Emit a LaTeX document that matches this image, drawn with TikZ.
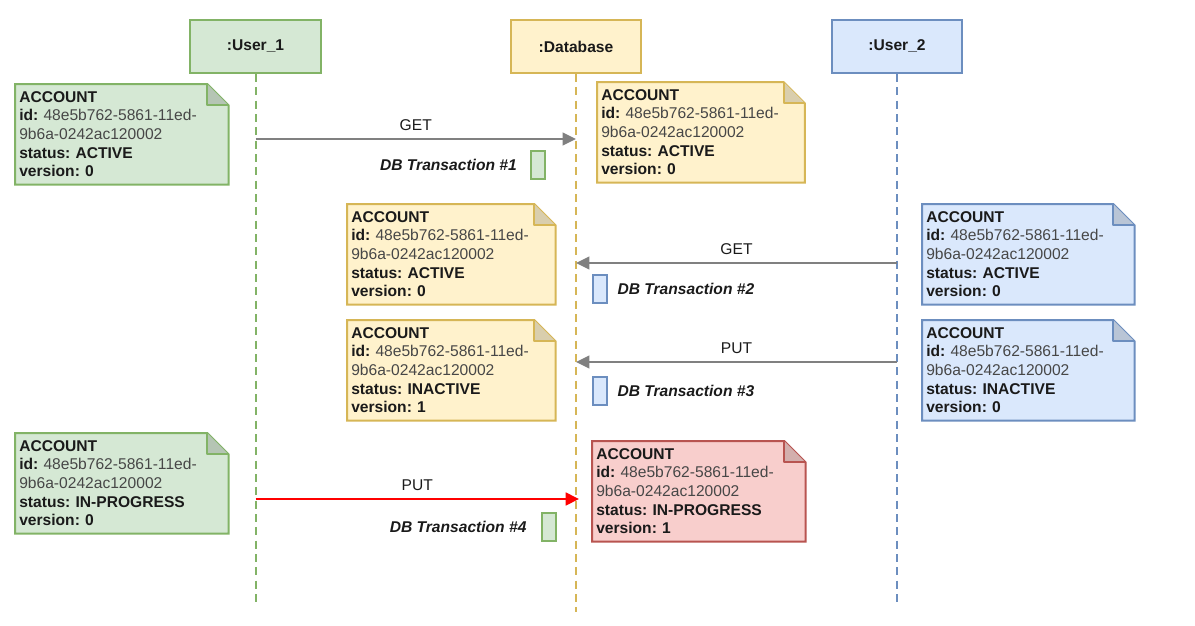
\documentclass[tikz,border=0pt]{standalone}
\usepackage{fontspec}
\setmainfont{Liberation Sans}
\usetikzlibrary{positioning,arrows.meta,backgrounds}
\frenchspacing

\definecolor{greenfill}{HTML}{D5E8D4}
\definecolor{greenline}{HTML}{82B366}
\definecolor{yellowfill}{HTML}{FFF2CC}
\definecolor{yellowline}{HTML}{D6B656}
\definecolor{bluefill}{HTML}{DAE8FC}
\definecolor{blueline}{HTML}{6C8EBF}
\definecolor{redfill}{HTML}{F8CECC}
\definecolor{redline}{HTML}{B85450}
\definecolor{arrowgray}{HTML}{808080}
\definecolor{idgray}{HTML}{474747}
\definecolor{textdark}{HTML}{1A1A1A}

% account record text
\newcommand{\acc}[2]{\textbf{ACCOUNT}\\
  \textbf{id:} \textcolor{idgray}{48e5b762-5861-11ed-}\\
  \textcolor{idgray}{9b6a-0242ac120002}\\
  \textbf{status: #1}\\
  \textbf{version: #2}}

% note outline with folded corner, behind the text
\newcommand{\notefold}[3]{%
  \begin{scope}[on background layer]
    \draw[draw=#3, fill=#2, line width=1.5pt]
      (#1.north west) -- ([xshift=-16pt]#1.north east) -- ([yshift=-16pt]#1.north east)
      -- (#1.south east) -- (#1.south west) -- cycle;
    \draw[draw=#3, fill=#2!85!black, line width=1.5pt, line join=round]
      ([xshift=-16pt]#1.north east) -- ([xshift=-16pt,yshift=-16pt]#1.north east)
      -- ([yshift=-16pt]#1.north east);
  \end{scope}}

\begin{document}
\begin{tikzpicture}[x=0.75pt, y=-0.75pt, font=\fontsize{11.7}{14}\selectfont, text=textdark]
		\tikzset{head/.style = {draw, line width=1.5pt, minimum width=98pt, minimum height=39.75pt, font=\fontsize{11.7}{14}\selectfont\bfseries}}
		\tikzset{life/.style = {line width=1.5pt, dash pattern=on 6pt off 4pt}}
		\tikzset{note/.style = {anchor=north west, inner xsep=3pt, inner ysep=0pt, text width=#1, align=left, minimum height=75pt}}
		\tikzset{msg/.style = {line width=1.6pt, draw=arrowgray, -{Triangle[length=10pt,width=9.5pt]}}}
		\tikzset{act/.style = {draw, line width=1.5pt, minimum width=10.5pt, minimum height=21pt, inner sep=0pt}}
		\tikzset{txlabel/.style = {font=\fontsize{11.7}{14}\selectfont\bfseries\itshape}}
		
		\useasboundingbox (0,0) rectangle (1195,625);
		
		% participants
		\node[head, draw=greenline, fill=greenfill]   (user1) at (255.5,46.5) {:User\_1};
		\node[head, draw=yellowline, fill=yellowfill] (db)    at (576,46.5)   {:Database};
		\node[head, draw=blueline, fill=bluefill]     (user2) at (897,46.5)   {:User\_2};
		
		\coordinate (user1end) at (255.5,603);
		\coordinate (dbend)    at (576,612);
		\coordinate (user2end) at (897,603);
		
		\draw[life, draw=greenline]  (user1) -- (user1end);
		\draw[life, draw=yellowline] (db)    -- (dbend);
		\draw[life, draw=blueline]   (user2) -- (user2end);
		
		% account notes
		\node[note=153.75pt] (u1first) at (15,84)  {\acc{ACTIVE}{0}};
		\node[note=149.5pt]  (dbfirst) at (597,82) {\acc{ACTIVE}{0}};
		\node[note=150pt]    (dbget)   at (347,204) {\acc{ACTIVE}{0}};
		\node[note=153pt]    (u2get)   at (922,204) {\acc{ACTIVE}{0}};
		\node[note=150pt]    (dbput)   at (347,320) {\acc{INACTIVE}{1}};
		\node[note=153pt]    (u2put)   at (922,320) {\acc{INACTIVE}{0}};
		\node[note=153.75pt] (u1put)   at (15,433) {\acc{IN-PROGRESS}{0}};
		\node[note=153.75pt] (dblast)  at (592,441) {\acc{IN-PROGRESS}{1}};
		
		\notefold{u1first}{greenfill}{greenline}
		\notefold{dbfirst}{yellowfill}{yellowline}
		\notefold{dbget}{yellowfill}{yellowline}
		\notefold{u2get}{bluefill}{blueline}
		\notefold{dbput}{yellowfill}{yellowline}
		\notefold{u2put}{bluefill}{blueline}
		\notefold{u1put}{greenfill}{greenline}
		\notefold{dblast}{redfill}{redline}
		
		% messages
		\coordinate (get1from) at (255.5,139);
		\coordinate (get1to)   at (576,139);
		\coordinate (get2from) at (897,263);
		\coordinate (get2to)   at (576,263);
		\coordinate (put1from) at (897,362);
		\coordinate (put1to)   at (576,362);
		\coordinate (put2from) at (255.5,499);
		\coordinate (put2to)   at (579,499);
		
		\draw[msg] (get1from) -- node[midway, above=2pt] {GET} (get1to);
		\draw[msg] (get2from) -- node[midway, above=2pt] {GET} (get2to);
		\draw[msg] (put1from) -- node[midway, above=2pt] {PUT} (put1to);
		\draw[msg, draw=red, line width=2pt] (put2from) -- node[midway, above=2pt] {PUT} (put2to);
		
		% transactions
		\node[act, draw=greenline, fill=greenfill] (act1) at (537.5,164.5) {};
		\node[act, draw=blueline, fill=bluefill]   (act2) at (599.5,288.5) {};
		\node[act, draw=blueline, fill=bluefill]   (act3) at (599.5,390.5) {};
		\node[act, draw=greenline, fill=greenfill] (act4) at (548.5,526.5) {};
		
		\node[txlabel, left=6pt of act1]  (tx1) {DB Transaction \#1};
		\node[txlabel, right=4pt of act2] (tx2) {DB Transaction \#2};
		\node[txlabel, right=4pt of act3] (tx3) {DB Transaction \#3};
		\node[txlabel, left=7pt of act4]  (tx4) {DB Transaction \#4};
\end{tikzpicture}
\end{document}
